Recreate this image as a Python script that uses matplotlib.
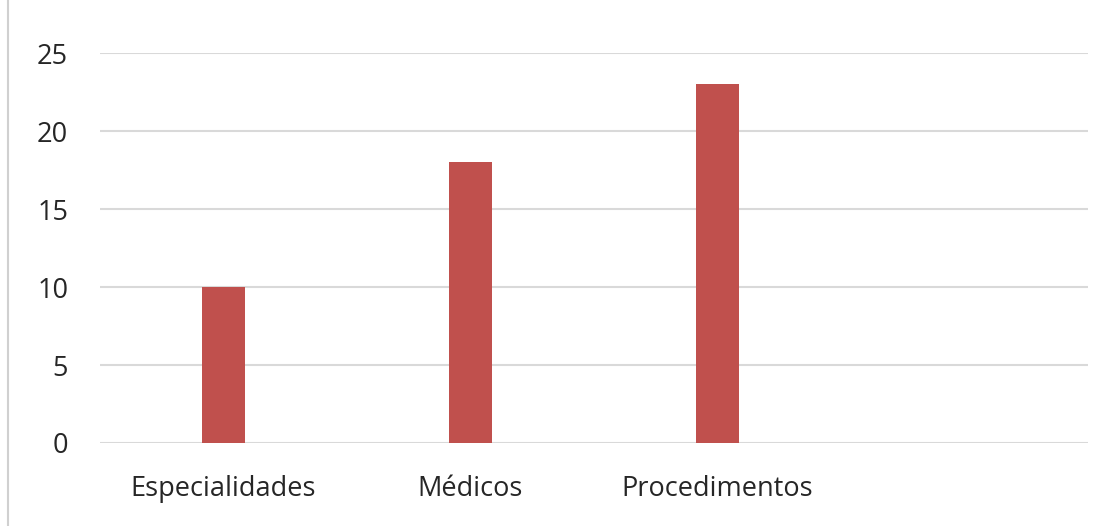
import matplotlib
matplotlib.use("Agg")
import matplotlib.pyplot as plt
from matplotlib.lines import Line2D

# data
categorias = ["Especialidades", "Médicos", "Procedimentos", ""]
valores = [10, 18, 23, 0]
yticks = [0, 5, 10, 15, 20, 25]

plt.rcParams['font.family'] = ['Open Sans', 'DejaVu Sans']

fig = plt.figure(figsize=(11.19, 5.26), dpi=100)
ax = fig.add_axes([0.0894, 0.1578, 0.8826, 0.7412])

x = list(range(len(categorias)))
ax.bar(x, valores, width=0.175, color="#C0504D", zorder=3)

ax.set_xlim(-0.5, len(categorias) - 0.5)
ax.set_ylim(0, 25)
ax.set_yticks(yticks)
ax.set_xticks(x)
ax.set_xticklabels(categorias, fontsize=19.5, color="#262626")
ax.tick_params(axis="y", labelsize=19.5, labelcolor="#262626", length=0, pad=23)
ax.tick_params(axis="x", length=0, pad=23)
ax.grid(axis="y", color="#d9d9d9", linewidth=1.5, zorder=0)
for s in ax.spines.values():
    s.set_visible(False)

# chart border on the left
fig.add_artist(Line2D([8 / 1119, 8 / 1119], [0, 1], color="#d0d0d0", linewidth=1.5))

fig.savefig("out.png", dpi=100)
